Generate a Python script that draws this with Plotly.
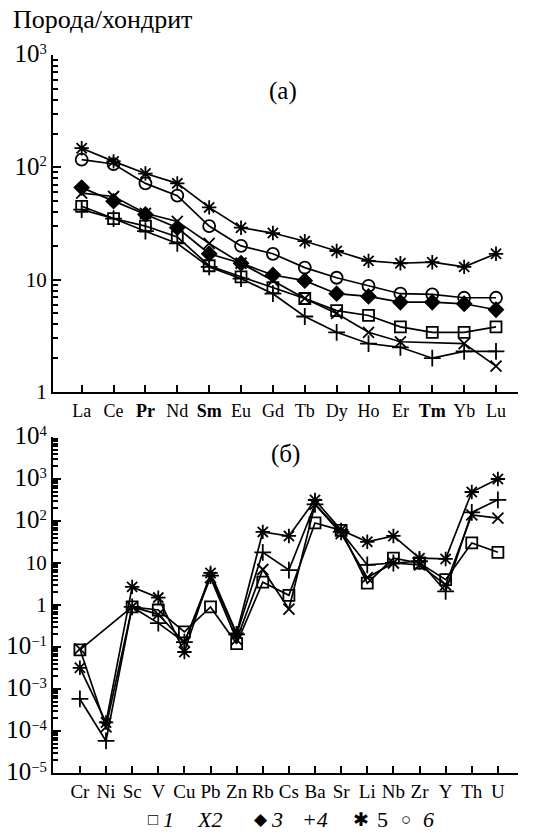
import plotly.graph_objects as go

# ---------- data ----------
ree = ["La", "Ce", "Pr", "Nd", "Sm", "Eu", "Gd", "Tb", "Dy", "Ho", "Er", "Tm", "Yb", "Lu"]
ree_labels = ["La", "Ce", "<b>Pr</b>", "Nd", "<b>Sm</b>", "Eu", "Gd", "Tb", "Dy", "Ho", "Er", "<b>Tm</b>", "Yb", "Lu"]

a_s1 = [45, 35, 30, 24, 13.3, 10.6, 8.5, 6.8, 5.3, 4.8, 3.8, 3.4, 3.4, 3.8]
a_s2 = [59, 55, 39, 33, 21, 14, 9.8, 6.8, 5.0, 3.4, 2.8, None, 2.7, 1.7]
a_s3 = [66, 50, 38, 29, 17, 14, 11, 9.8, 7.5, 7.1, 6.3, 6.3, 6.1, 5.4]
a_s4 = [42, 35, 27, 21, 13, 10.2, 7.5, 4.7, 3.4, 2.7, 2.5, 2.0, 2.3, 2.3]
a_s5 = [148, 113, 88, 72, 44, 29, 26, 22, 18, 14.7, 14, 14.3, 13, 17]
a_s6 = [117, 107, 72, 56, 30, 20, 17, 12.8, 10.4, 8.8, 7.5, 7.4, 6.9, 6.9]

trace_el = ["Cr", "Ni", "Sc", "V", "Cu", "Pb", "Zn", "Rb", "Cs", "Ba", "Sr", "Li", "Nb", "Zr", "Y", "Th", "U"]

b_s1 = [0.085, None, 0.9, 0.76, 0.23, 0.9, 0.12, 3.5, 1.7, 90, 60, 3.3, 13, 10, 4, 30, 18]
b_s2 = [0.09, 1.25e-3, 0.9, 0.6, 0.13, 4.5, 0.15, 7, 0.8, 250, 50, 4.5, 10, 9, 3, 140, 117]
b_s4 = [5.8e-3, 5.8e-4, 0.9, 0.37, 0.13, 5, 0.2, 18, 6.8, 250, 55, 9, 10, 11, 2.1, 160, 320]
b_s5 = [0.032, 1.6e-3, 2.7, 1.5, 0.076, 5.8, 0.21, 55, 44, 316, 61, 32, 44, 13, 12.5, 490, 1000]

BIG = "<span style='font-size:25px'>10</span>"
a_tickvals = [1, 10, 100, 1000]
a_ticktext = ["1", "10", BIG + "<sup>2</sup>", BIG + "<sup>3</sup>"]
b_tickvals = [1e4, 1e3, 1e2, 10, 1, 0.1, 0.01, 1e-3, 1e-4]
b_ticktext = [BIG + "<sup>4</sup>", BIG + "<sup>3</sup>", BIG + "<sup>2</sup>", "10", "1",
              BIG + "<sup>−1</sup>", BIG + "<sup>−3</sup>", BIG + "<sup>−4</sup>", BIG + "<sup>−5</sup>"]

# ---------- figure ----------
W, H = 538, 835
FONT = "Liberation Serif"

def px(x):
    return x / W

def py(y):
    return 1 - y / H

fig = go.Figure()

styles = {
    "1": dict(symbol="square-open", size=11),
    "2": dict(symbol="x-thin-open", size=11),
    "3": dict(symbol="diamond", size=11),
    "4": dict(symbol="cross-thin-open", size=12),
    "5": dict(symbol="asterisk-open", size=12),
    "6": dict(symbol="circle-open", size=12),
}

def add(x, y, key, xa, ya, gaps=False):
    st = styles[key]
    fig.add_trace(go.Scatter(
        x=x, y=y, mode="lines+markers", xaxis=xa, yaxis=ya, connectgaps=gaps,
        line=dict(color="black", width=1.7),
        marker=dict(symbol=st["symbol"], size=st["size"], color="black",
                    line=dict(color="black", width=1.8)),
        showlegend=False))

for yv, k in [(a_s1, "1"), (a_s2, "2"), (a_s3, "3"), (a_s4, "4"), (a_s5, "5"), (a_s6, "6")]:
    add(ree, yv, k, "x", "y", gaps=True)
for yv, k in [(b_s1, "1"), (b_s2, "2"), (b_s4, "4"), (b_s5, "5")]:
    add(trace_el, yv, k, "x2", "y2", gaps=True)

xdom = [px(53), px(518)]
ya_dom = [py(392), py(55)]
yb_dom = [py(773), py(437)]

def minor_vals(lo, hi):
    return [m * 10 ** e for e in range(lo, hi) for m in range(2, 10)]

common_x = dict(type="category", showline=True, linecolor="black", linewidth=2,
                ticks="inside", ticklen=7, tickwidth=2, tickcolor="black",
                showgrid=False, zeroline=False, automargin=False)
common_y = dict(type="log", showline=True, linecolor="black", linewidth=2,
                ticks="inside", ticklen=8, tickwidth=2, tickcolor="black",
                showgrid=False, zeroline=False, automargin=False, ticklabelstandoff=0,
                tickfont=dict(family=FONT, size=21, color="black"))

fig.update_layout(
    width=W, height=H,
    margin=dict(l=0, r=0, t=0, b=0, autoexpand=False),
    paper_bgcolor="white", plot_bgcolor="white",
    xaxis=dict(common_x, domain=xdom, anchor="y", range=[-0.9, 13.69],
               tickvals=ree, ticktext=ree_labels, ticklabelstandoff=1,
               tickfont=dict(family=FONT, size=18, color="black")),
    yaxis=dict(common_y, domain=ya_dom, anchor="x", range=[0, 3],
               tickvals=a_tickvals, ticktext=a_ticktext,
               minor=dict(tickvals=minor_vals(0, 3), ticks="inside", ticklen=5,
                          tickwidth=1.5, tickcolor="black", showgrid=False)),
    xaxis2=dict(common_x, domain=xdom, anchor="y2", range=[-1.03, 16.77],
                tickvals=trace_el, ticktext=trace_el, ticklabelstandoff=0,
                tickfont=dict(family=FONT, size=19, color="black")),
    yaxis2=dict(common_y, domain=yb_dom, anchor="x2", range=[-4, 4],
                tickvals=b_tickvals, ticktext=b_ticktext,
                minor=dict(tickvals=minor_vals(-4, 4), ticks="inside", ticklen=5,
                           tickwidth=1.5, tickcolor="black", showgrid=False)),
)

def note(text, x, y, size, xanchor="center"):
    fig.add_annotation(text=text, x=px(x), y=py(y), xref="paper", yref="paper",
                       xanchor=xanchor, yanchor="middle", showarrow=False,
                       font=dict(family=FONT, size=size, color="black"))

note("Порода/хондрит", 11, 20, 26, xanchor="left")
note("(а)", 283, 91, 25)
note("(б)", 285, 454, 25)

# legend row
legend_items = [("□", 153, 17), ("<i>1</i>", 168, 22), ("<i>X2</i>", 209, 22),
                ("◆", 261, 17), ("<i>3</i>", 277, 22), ("<i>+4</i>", 315, 22),
                ("✱", 361, 19), ("5", 382, 22), ("○", 406, 17), ("<i>6</i>", 428, 22)]
for t, x, s in legend_items:
    note(t, x, 819, s)

fig.write_html(
    "out.html",
    config={"displayModeBar": False},
    post_script="document.body.style.margin='0px';document.body.style.overflow='hidden';",
)
